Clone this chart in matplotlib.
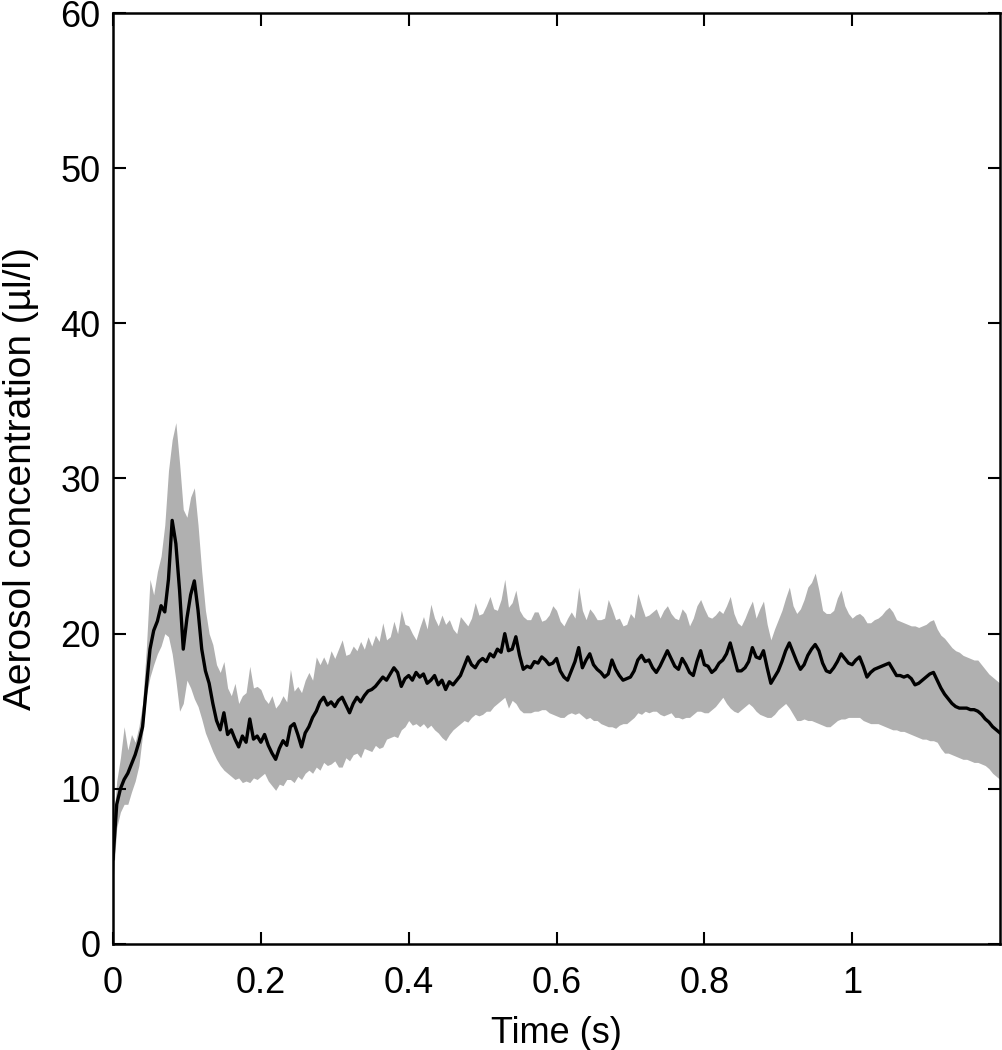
"""Aerosol concentration vs time: mean trace (black) with grey spread band."""
import matplotlib

matplotlib.use("Agg")
import matplotlib.pyplot as plt
import numpy as np

plt.rcParams["font.family"] = ["Liberation Sans", "DejaVu Sans"]

# sample times (s), every 5 ms from 0 to 1.2 s
TIME = np.linspace(0.0, 1.2, 241)

# mean concentration (ul/l)
MEAN = [
    5.5, 9.0, 10.0, 10.6, 11.0, 11.6, 12.2, 13.0, 14.0, 16.5,
    19.0, 20.2, 20.8, 21.8, 21.4, 23.5, 27.3, 25.8, 22.8, 19.0,
    21.0, 22.5, 23.4, 21.5, 19.0, 17.6, 16.8, 15.5, 14.4, 13.8,
    14.9, 13.5, 13.8, 13.2, 12.7, 13.4, 13.0, 14.5, 13.2, 13.4,
    13.0, 13.5, 12.8, 12.3, 11.9, 12.6, 13.1, 12.8, 14.0, 14.2,
    13.5, 12.7, 13.6, 14.0, 14.6, 15.0, 15.6, 15.9, 15.4, 15.6,
    15.3, 15.7, 15.9, 15.4, 14.9, 15.5, 15.9, 15.6, 16.0, 16.3,
    16.4, 16.6, 16.9, 17.2, 17.0, 17.4, 17.8, 17.5, 16.6, 17.1,
    17.3, 17.0, 17.5, 17.2, 17.4, 16.8, 17.0, 17.3, 16.7, 17.0,
    16.4, 16.9, 16.7, 17.0, 17.3, 17.9, 18.5, 18.0, 17.8, 18.2,
    18.4, 18.2, 18.7, 18.5, 19.0, 18.8, 20.0, 18.9, 19.0, 19.8,
    18.6, 17.7, 17.9, 17.8, 18.2, 18.1, 18.5, 18.3, 18.0, 18.1,
    18.4, 17.6, 17.2, 17.0, 17.6, 18.2, 19.1, 17.8, 18.3, 18.7,
    18.0, 17.7, 17.5, 17.2, 17.4, 18.3, 17.7, 17.3, 17.0, 17.1,
    17.2, 17.6, 18.3, 18.6, 18.2, 18.3, 17.8, 17.5, 17.9, 18.4,
    18.9, 18.4, 17.9, 17.7, 18.4, 18.0, 17.5, 17.3, 18.2, 18.9,
    18.0, 17.9, 17.5, 17.7, 18.1, 18.3, 18.7, 19.4, 18.5, 17.6,
    17.6, 17.8, 18.2, 19.1, 18.5, 18.4, 18.9, 17.8, 16.8, 17.2,
    17.6, 18.2, 18.9, 19.4, 18.8, 18.2, 17.7, 18.0, 18.6, 19.0,
    19.3, 18.9, 18.1, 17.6, 17.5, 17.8, 18.2, 18.7, 18.4, 18.1,
    18.0, 18.3, 18.5, 17.9, 17.2, 17.5, 17.7, 17.8, 17.9, 18.0,
    18.1, 17.7, 17.3, 17.3, 17.2, 17.3, 17.1, 16.7, 16.8, 17.0,
    17.2, 17.4, 17.5, 17.0, 16.5, 16.1, 15.8, 15.5, 15.3, 15.2,
    15.2, 15.2, 15.1, 15.1, 15.0, 14.8, 14.5, 14.3, 14.0, 13.8,
    13.6,
]

# upper edge of the grey band
UPPER = [
    7.5, 10.5, 12.0, 14.0, 12.5, 13.5, 13.0, 14.0, 15.5, 19.0,
    23.5, 22.5, 24.0, 25.0, 27.0, 30.5, 32.5, 33.6, 31.0, 28.0,
    27.5, 28.8, 29.4, 27.0, 24.0, 21.5, 20.0, 19.3, 18.0, 17.5,
    18.2, 16.5, 16.0, 16.8, 15.5, 16.0, 16.2, 17.9, 16.5, 16.6,
    16.4, 15.8, 15.5, 16.0, 15.2, 15.5, 16.0, 15.6, 17.7, 16.3,
    16.6, 16.2, 17.0, 17.5, 17.0, 18.5, 18.0, 18.5, 18.0, 18.9,
    18.4, 19.0, 19.6, 18.6, 18.7, 19.2, 18.9, 19.5, 19.0, 19.8,
    19.2, 19.9, 19.5, 20.7, 19.6, 19.8, 20.8, 20.0, 21.5, 20.6,
    20.5, 20.0, 19.6, 20.4, 21.1, 20.3, 21.9, 21.0, 20.5, 21.2,
    20.6, 20.9, 20.3, 20.0, 21.1, 20.8, 20.5, 21.0, 22.0, 21.2,
    21.3, 21.8, 22.4, 21.6, 21.5, 22.2, 23.5, 21.7, 22.0, 22.8,
    21.5, 21.1, 20.9, 20.9, 21.4, 21.4, 20.8, 20.9, 21.2, 21.8,
    21.5, 20.8, 20.5, 21.0, 21.4, 21.0, 23.0, 21.5, 20.9, 21.6,
    21.3, 20.9, 20.9, 21.0, 22.2, 21.6, 20.9, 21.0, 20.5, 20.6,
    21.3, 21.0, 22.6, 21.8, 21.1, 21.2, 21.4, 21.6, 21.0, 21.5,
    21.8, 21.3, 21.0, 20.9, 21.6, 21.3, 20.5, 21.0, 21.8, 22.2,
    21.6, 21.1, 21.0, 21.2, 21.5, 21.3, 21.8, 22.4, 21.3, 20.7,
    20.5, 21.0, 21.6, 22.1, 21.0, 21.6, 22.1, 20.6, 19.6, 20.3,
    20.9, 21.5, 22.3, 23.0, 21.8, 21.3, 21.6, 22.2, 23.0, 23.3,
    23.9, 22.8, 21.5, 21.3, 21.3, 21.5, 22.3, 22.8, 21.8, 21.3,
    21.0, 21.2, 21.3, 21.1, 20.7, 20.7, 20.9, 21.0, 21.2, 21.5,
    21.7, 21.4, 20.9, 20.8, 20.7, 20.6, 20.5, 20.5, 20.4, 20.5,
    20.6, 20.8, 20.9, 20.3, 19.9, 19.7, 19.4, 19.1, 18.9, 18.8,
    18.6, 18.5, 18.4, 18.3, 18.3, 18.0, 17.7, 17.4, 17.2, 17.0,
    16.8,
]

# lower edge of the grey band
LOWER = [
    4.0, 7.5, 8.5, 9.0, 9.0, 9.8, 10.5, 11.5, 13.5, 16.0,
    17.2, 18.0, 18.7, 19.2, 20.0, 19.8, 18.7, 17.0, 15.0, 15.5,
    17.0, 16.5, 15.8, 15.3, 14.5, 13.6, 13.0, 12.4, 11.9, 11.5,
    11.2, 11.0, 10.8, 10.6, 10.7, 10.4, 10.5, 10.4, 10.7, 10.6,
    10.8, 11.0, 10.5, 10.2, 9.9, 10.3, 10.2, 10.6, 10.6, 10.4,
    10.8, 10.6, 11.0, 11.2, 11.0, 11.4, 11.2, 11.7, 11.5, 11.6,
    11.8, 11.4, 11.4, 12.0, 11.8, 12.2, 12.3, 12.0, 12.6, 12.5,
    12.4, 12.8, 12.6, 12.7, 13.2, 13.3, 13.4, 13.3, 13.8, 14.0,
    14.4, 14.1, 14.2, 14.0, 14.2, 13.9, 14.1, 13.8, 13.6, 13.3,
    13.1, 13.5, 13.8, 14.0, 14.2, 14.4, 14.3, 14.6, 14.8, 14.7,
    14.8, 15.0, 15.0, 15.3, 15.5, 15.7, 15.9, 15.2, 15.7, 15.5,
    15.1, 14.9, 14.9, 14.9, 15.0, 15.0, 15.1, 15.1, 14.9, 14.8,
    14.7, 14.6, 14.6, 14.8, 14.9, 14.8, 14.9, 14.7, 14.5, 14.6,
    14.4, 14.4, 14.2, 14.1, 14.0, 14.0, 13.9, 14.1, 14.2, 14.2,
    14.4, 14.6, 14.9, 14.8, 15.0, 14.9, 15.0, 15.0, 14.8, 14.7,
    14.8, 14.9, 14.6, 14.6, 14.5, 14.6, 14.6, 14.8, 15.0, 15.0,
    14.9, 14.9, 15.1, 15.3, 15.6, 15.9, 15.5, 15.2, 15.0, 14.9,
    15.1, 15.3, 15.5, 15.3, 15.0, 14.8, 14.7, 14.6, 14.6, 14.8,
    15.1, 15.3, 15.5, 15.2, 14.8, 14.4, 14.4, 14.5, 14.4, 14.4,
    14.3, 14.2, 14.1, 14.0, 14.0, 14.2, 14.4, 14.5, 14.5, 14.6,
    14.6, 14.6, 14.6, 14.4, 14.3, 14.2, 14.2, 14.2, 14.1, 14.0,
    13.9, 13.8, 13.8, 13.7, 13.7, 13.6, 13.5, 13.4, 13.3, 13.2,
    13.2, 13.1, 13.1, 13.0, 12.6, 12.3, 12.3, 12.2, 12.1, 12.0,
    11.9, 11.9, 11.8, 11.7, 11.7, 11.6, 11.5, 11.3, 11.0, 10.8,
    10.6,
]

XTICKS = [0, 0.2, 0.4, 0.6, 0.8, 1.0]
XTICKLABELS = ["0", "0.2", "0.4", "0.6", "0.8", "1"]
YTICKS = [0, 10, 20, 30, 40, 50, 60]

fig = plt.figure(figsize=(10.03, 10.5), dpi=100)
ax = fig.add_axes([0.1127, 0.101, 0.8843, 0.8866])

ax.fill_between(TIME, LOWER, UPPER, color="#b0b0b0", linewidth=0)
ax.plot(TIME, MEAN, color="black", linewidth=2.4)

ax.set_xlim(0, 1.2)
ax.set_ylim(0, 60)
ax.set_xticks(XTICKS)
ax.set_xticklabels(XTICKLABELS)
ax.set_yticks(YTICKS)
ax.tick_params(direction="in", length=9, width=1.5, labelsize=26,
               top=True, right=True)
ax.tick_params(axis="x", pad=16)
ax.tick_params(axis="y", pad=9)
for s in ax.spines.values():
    s.set_linewidth(1.8)

ax.set_xlabel("Time (s)", fontsize=26, labelpad=11)
ax.set_ylabel("Aerosol concentration (µl/l)", fontsize=28)
ax.yaxis.set_label_coords(-0.083, 0.5)

fig.savefig("out.png", dpi=100)
